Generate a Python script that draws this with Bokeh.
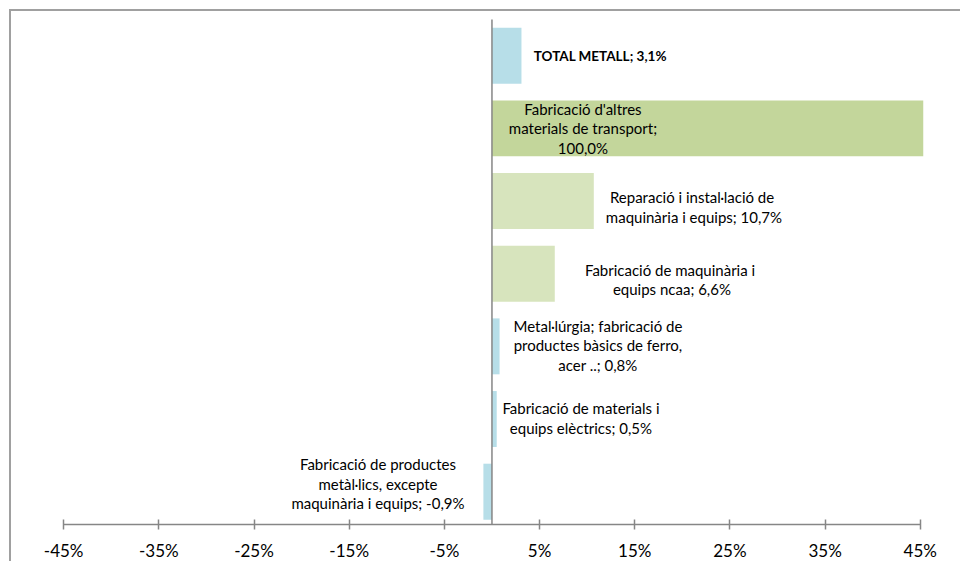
from bokeh.plotting import figure
from bokeh.models import Range1d, FixedTicker, PrintfTickFormatter, ColumnDataSource
from bokeh.core.properties import value
from bokeh.embed import file_html
from bokeh.resources import INLINE

# ---- data (bottom to top) ----
categories = [
    "Fabricació de productes\nmetàl·lics, excepte\nmaquinària i equips",
    "Fabricació de materials i\nequips elèctrics",
    "Metal·lúrgia; fabricació de\nproductes bàsics de ferro,\nacer ..",
    "Fabricació de maquinària  i\nequips ncaa",
    "Reparació i instal·lació  de\nmaquinària i equips",
    "Fabricació d'altres\nmaterials de transport",
    "TOTAL METALL",
]
values = [-0.9, 0.5, 0.8, 6.6, 10.7, 100.0, 3.1]
separators = ["; ", "; ", "; ", "; ", "; ", ";\n", ";  "]
tick_values = [-45, -35, -25, -15, -5, 5, 15, 25, 35, 45]

# ---- styles ----
bar_colors = ["#B7DEE8", "#B7DEE8", "#B7DEE8", "#D7E4BD", "#D7E4BD", "#C3D69B", "#B7DEE8"]
label_dx = [-114, 89, 106, 180, 202, 91, 110]   # screen px from zero line
label_dy = [-8, -1, -1, 6, 6, 0, 0]              # screen px (down positive)

def fmt(v):
    return ("%.1f%%" % v).replace(".", ",")

labels = [c + s + fmt(v) for c, s, v in zip(categories, separators, values)]
pos = list(range(len(categories)))
n = len(categories)

src = ColumnDataSource(dict(pos=pos, val=values, color=bar_colors))
normal = ColumnDataSource(dict(pos=pos[:-1], label=labels[:-1], dx=label_dx[:-1], dy=label_dy[:-1]))
bold = ColumnDataSource(dict(pos=pos[-1:], label=labels[-1:], dx=label_dx[-1:], dy=label_dy[-1:]))

p = figure(width=951, height=552, output_backend="svg", toolbar_location=None,
           x_range=Range1d(-50.27, 45.34), y_range=Range1d(-0.452, 6.609),
           y_axis_location=None, min_border_left=2, min_border_right=39,
           min_border_top=0, min_border_bottom=36)
p.styles = {"margin-left": "9px", "margin-top": "9px",
            "border-top": "2px solid #a0a0a0", "border-left": "2px solid #a0a0a0"}
p.outline_line_color = None
p.xgrid.visible = False
p.ygrid.visible = False
p.background_fill_color = "white"
p.border_fill_color = "white"

p.hbar(y="pos", left=0, right="val", height=0.77, fill_color="color",
       line_color=None, source=src)

# vertical zero axis line across the category bands
p.segment(x0=[0], y0=[-0.5], x1=[0], y1=[n - 0.5], line_color="#868686", line_width=1.5)

p.text(x=0, y="pos", text="label", x_offset="dx", y_offset="dy", source=normal,
       text_align="center", text_baseline="middle", text_font=value("Lato"),
       text_font_size="15px", text_line_height=1.07, text_color="#000000")
p.text(x=0, y="pos", text="label", x_offset="dx", y_offset="dy", source=bold,
       text_align="center", text_baseline="middle", text_font=value("Lato"),
       text_font_size="13.5px", text_font_style="bold", text_color="#000000")

ax = p.xaxis[0]
ax.ticker = FixedTicker(ticks=tick_values)
ax.formatter = PrintfTickFormatter(format="%d%%")
ax.bounds = (tick_values[0], tick_values[-1])
ax.axis_line_color = "#868686"
ax.axis_line_width = 1.5
ax.major_tick_line_color = "#868686"
ax.major_tick_line_width = 1.5
ax.major_tick_in = 5
ax.major_tick_out = 5
ax.minor_tick_line_color = None
ax.major_label_standoff = 10
ax.major_label_text_font = "Lato"
ax.major_label_text_font_size = "17px"
ax.major_label_text_color = "#000000"

open("out.html", "w").write(file_html(p, INLINE))
